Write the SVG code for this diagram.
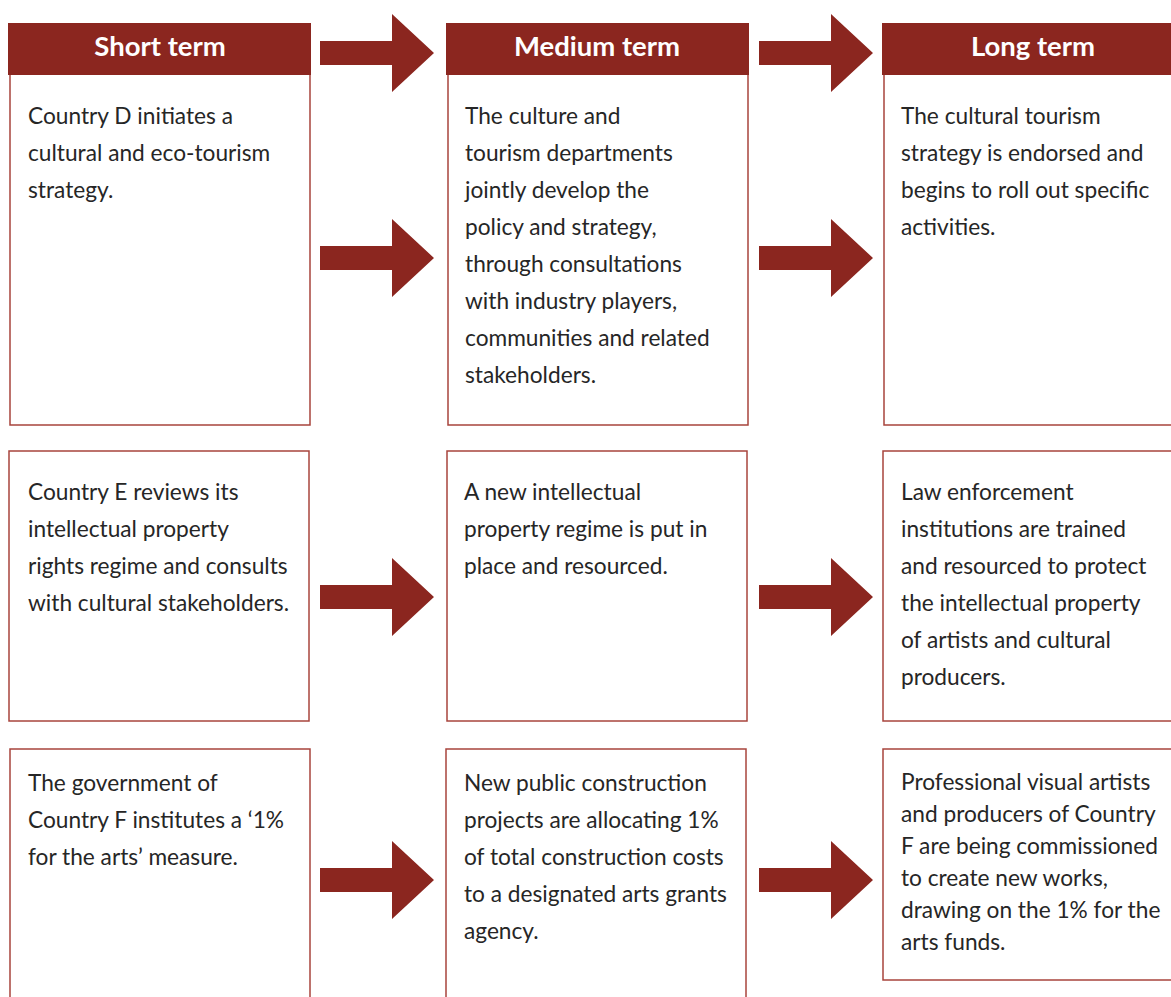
<svg xmlns="http://www.w3.org/2000/svg" width="1171" height="997" viewBox="0 0 1171 997">
<defs>
<style>
.hdr{fill:#8B261F}
.box{fill:#fff;stroke:#A8443D;stroke-width:1.5}
.arrow{fill:#8B261F}
.ht{font-family:Lato,"Open Sans",sans-serif;font-weight:bold;font-size:27.5px;fill:#fff;text-anchor:middle}
.t{font-family:Lato,"Open Sans",sans-serif;font-size:22.7px;fill:#262626}
</style>
<path id="arr" d="M0,-12 H72 V-39 L114,0 L72,39 V12 H0 Z"/>
</defs>
<rect width="1171" height="997" fill="#fff"/>

<g id="connectors">
<use href="#arr" class="arrow" x="320" y="53"/>
<use href="#arr" class="arrow" x="759" y="53"/>
<use href="#arr" class="arrow" x="320" y="258"/>
<use href="#arr" class="arrow" x="759" y="258"/>
<use href="#arr" class="arrow" x="320" y="597"/>
<use href="#arr" class="arrow" x="759" y="597"/>
<use href="#arr" class="arrow" x="320" y="880"/>
<use href="#arr" class="arrow" x="759" y="880"/>
</g>

<g id="short-header">
<rect class="hdr" x="8" y="23" width="303" height="52"/>
<text class="ht" x="160" y="56">Short term</text>
</g>
<g id="medium-header">
<rect class="hdr" x="446" y="23" width="303" height="52"/>
<text class="ht" x="597" y="56">Medium term</text>
</g>
<g id="long-header">
<rect class="hdr" x="882" y="23" width="292" height="52"/>
<text class="ht" x="1033" y="56">Long term</text>
</g>

<g id="d-short">
<path class="box" d="M10,75 V425 H310 V75"/>
<text class="t" x="28" y="124">Country D initiates a</text>
<text class="t" x="28" y="161">cultural and eco-tourism</text>
<text class="t" x="28" y="198">strategy.</text>
</g>
<g id="d-medium">
<path class="box" d="M448,75 V425 H748 V75"/>
<text class="t" x="465" y="124">The culture and</text>
<text class="t" x="465" y="161">tourism departments</text>
<text class="t" x="465" y="198">jointly develop the</text>
<text class="t" x="465" y="235">policy and strategy,</text>
<text class="t" x="465" y="272">through consultations</text>
<text class="t" x="465" y="309">with industry players,</text>
<text class="t" x="465" y="346">communities and related</text>
<text class="t" x="465" y="383">stakeholders.</text>
</g>
<g id="d-long">
<path class="box" d="M884,75 V425 H1175"/>
<text class="t" x="901" y="124">The cultural tourism</text>
<text class="t" x="901" y="161">strategy is endorsed and</text>
<text class="t" x="901" y="198">begins to roll out specific</text>
<text class="t" x="901" y="235">activities.</text>
</g>

<g id="e-short">
<rect class="box" x="9" y="451" width="300" height="270"/>
<text class="t" x="28" y="500">Country E reviews its</text>
<text class="t" x="28" y="537">intellectual property</text>
<text class="t" x="28" y="574">rights regime and consults</text>
<text class="t" x="28" y="611">with cultural stakeholders.</text>
</g>
<g id="e-medium">
<rect class="box" x="447" y="451" width="300" height="270"/>
<text class="t" x="464" y="500">A new intellectual</text>
<text class="t" x="464" y="537">property regime is put in</text>
<text class="t" x="464" y="574">place and resourced.</text>
</g>
<g id="e-long">
<rect class="box" x="883" y="451" width="300" height="270"/>
<text class="t" x="901" y="500">Law enforcement</text>
<text class="t" x="901" y="537">institutions are trained</text>
<text class="t" x="901" y="574">and resourced to protect</text>
<text class="t" x="901" y="611">the intellectual property</text>
<text class="t" x="901" y="648">of artists and cultural</text>
<text class="t" x="901" y="685">producers.</text>
</g>

<g id="f-short">
<rect class="box" x="10" y="749" width="300" height="270"/>
<text class="t" x="28" y="791">The government of</text>
<text class="t" x="28" y="828">Country F institutes a ‘1%</text>
<text class="t" x="28" y="865">for the arts’ measure.</text>
</g>
<g id="f-medium">
<rect class="box" x="446" y="749" width="300" height="270"/>
<text class="t" x="464" y="791">New public construction</text>
<text class="t" x="464" y="828">projects are allocating 1%</text>
<text class="t" x="464" y="865">of total construction costs</text>
<text class="t" x="464" y="902">to a designated arts grants</text>
<text class="t" x="464" y="939">agency.</text>
</g>
<g id="f-long">
<rect class="box" x="883" y="749" width="300" height="231"/>
<text class="t" x="901" y="790">Professional visual artists</text>
<text class="t" x="901" y="822">and producers of Country</text>
<text class="t" x="901" y="854">F are being commissioned</text>
<text class="t" x="901" y="886">to create new works,</text>
<text class="t" x="901" y="918">drawing on the 1% for the</text>
<text class="t" x="901" y="950">arts funds.</text>
</g>
</svg>
